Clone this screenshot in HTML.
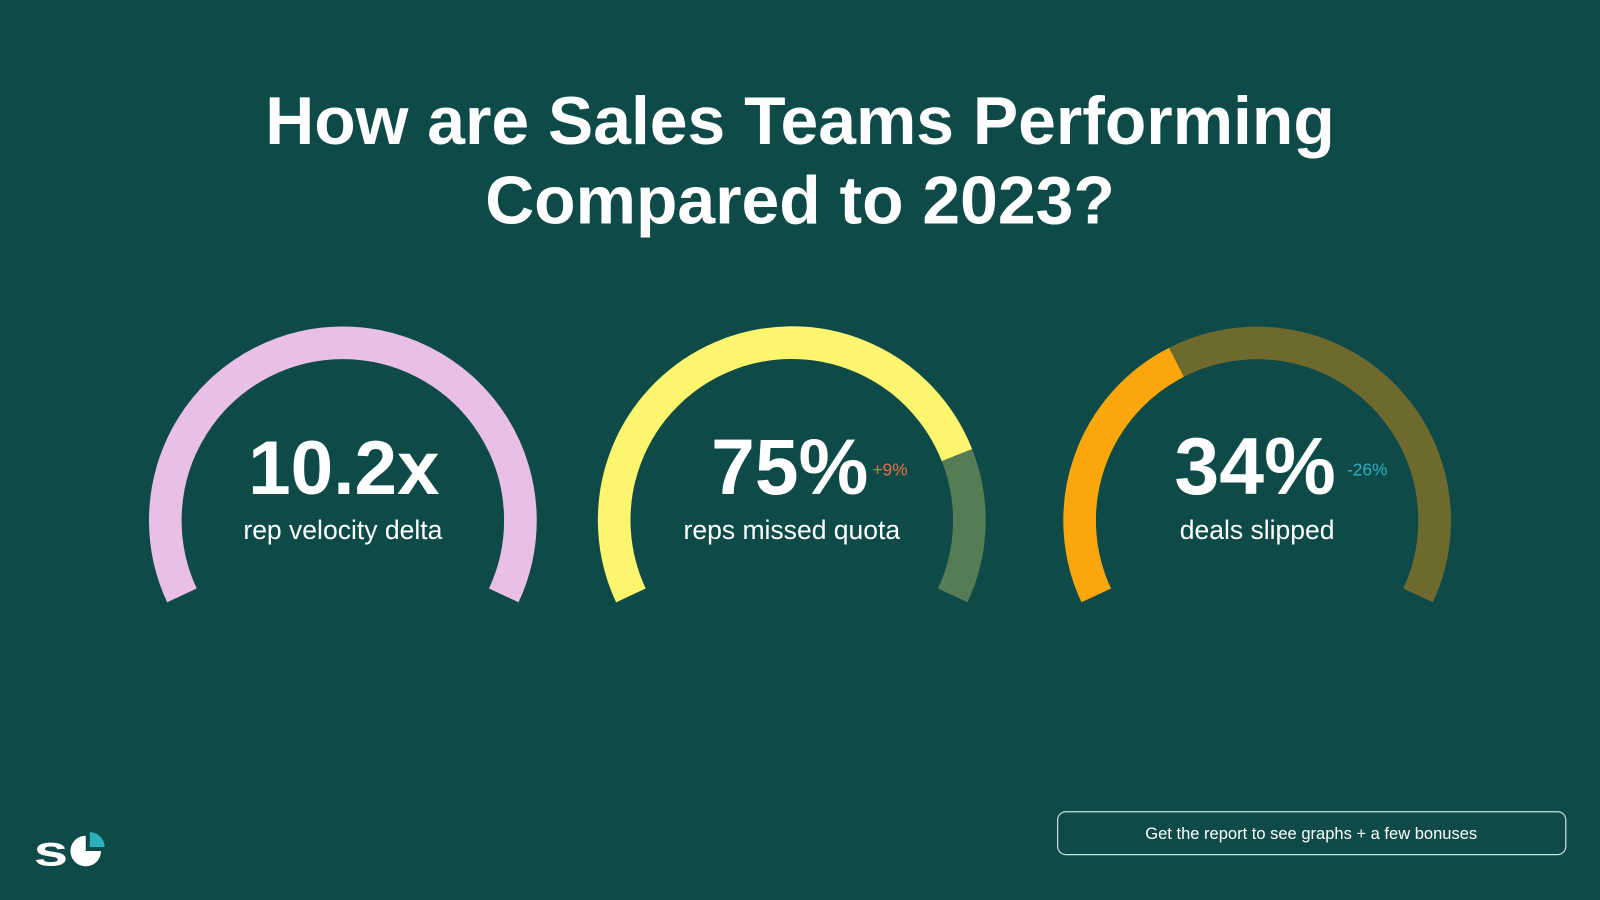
<!DOCTYPE html>
<html><head><style>html,body{margin:0;padding:0;background:#0e4a48;}svg{display:block}</style></head>
<body>
<svg width="1600" height="900" viewBox="0 0 1568 882" xmlns="http://www.w3.org/2000/svg">
<rect width="1568" height="882" fill="#0e4a48"/>
<g font-family="Liberation Sans, sans-serif" fill="#fff" text-anchor="middle">
<text x="784" y="141" font-size="66.5" font-weight="bold">How are Sales Teams Performing</text>
<text x="784" y="219" font-size="66.5" font-weight="bold">Compared to 2023?</text>
</g>
<g fill="none" stroke-width="32" stroke-linecap="butt">
<path d="M178.3 583.5 A174 174 0 1 1 493.7 583.5" stroke="#e9bfe6"/>
<path d="M618.3 583.5 A174 174 0 1 1 937.8 446" stroke="#fdf56e"/>
<path d="M937.8 446 A174 174 0 0 1 933.7 583.5" stroke="#567c56"/>
<path d="M1074.3 583.5 A174 174 0 0 1 1153 355" stroke="#fba70c"/>
<path d="M1153 355 A174 174 0 0 1 1389.7 583.5" stroke="#6e6a2e"/>
</g>
<g font-family="Liberation Sans, sans-serif" fill="#fff" text-anchor="middle">
<text x="337" y="484" font-size="75" font-weight="bold">10.2x</text>
<text x="336" y="528" font-size="26">rep velocity delta</text>
<text x="774" y="484" font-size="77" font-weight="bold">75%</text>
<text x="776" y="528" font-size="26">reps missed quota</text>
<text x="1230" y="484" font-size="79" font-weight="bold">34%</text>
<text x="1232" y="528" font-size="26">deals slipped</text>
</g>
<text x="855" y="466" font-family="Liberation Sans, sans-serif" font-size="17" fill="#e8704a">+9%</text>
<text x="1320" y="466" font-family="Liberation Sans, sans-serif" font-size="17" fill="#2bb0c0">-26%</text>
<rect x="1036.5" y="795.5" width="498" height="42" rx="8" fill="none" stroke="#cfe0dd" stroke-width="1.2"/>
<text x="1285" y="822" font-family="Liberation Sans, sans-serif" font-size="16.2" fill="#fff" text-anchor="middle">Get the report to see graphs + a few bonuses</text>
<text x="0" y="0" transform="translate(33 848) scale(1.45 1)" font-family="Liberation Sans, sans-serif" font-size="42" font-weight="bold" fill="#fff">s</text>
<circle cx="84" cy="834" r="15" fill="#fff"/>
<path d="M84 834 L84 817 A17 17 0 0 1 101 834 Z" fill="#0e4a48"/>
<path d="M88 830 L88 815.5 A14.5 14.5 0 0 1 102.5 830 Z" fill="#2bb0c0"/>
</svg>
</body></html>
